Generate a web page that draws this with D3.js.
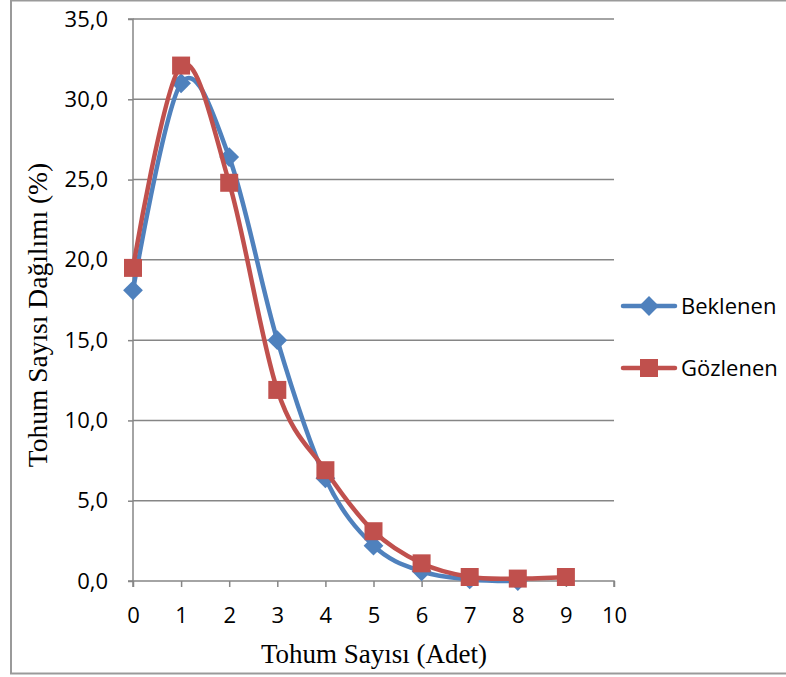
<!DOCTYPE html>
<html>
<head>
<meta charset="utf-8">
<script src="https://cdn.jsdelivr.net/npm/d3@7"></script>
<style>
  html, body { margin: 0; padding: 0; background: #fff; }
  svg { display: block; }
</style>
</head>
<body>
<svg id="chart" width="786" height="677"></svg>
<script>
// Seed count distribution: expected (Poisson) vs observed, in percent
const seedCounts = [0, 1, 2, 3, 4, 5, 6, 7, 8, 9];
const expected = [18.1, 31.0, 26.4, 15.0, 6.4, 2.2, 0.6, 0.1, 0.0];
const observed = [19.5, 32.1, 24.8, 11.9, 6.9, 3.1, 1.1, 0.25, 0.15, 0.25];
const xTicks = [0, 1, 2, 3, 4, 5, 6, 7, 8, 9, 10];
const yTicks = [0, 5, 10, 15, 20, 25, 30, 35];
const seriesNames = ["Beklenen", "Gözlenen"];

const svg = d3.select("#chart");
const W = 786, H = 677;
const plot = { left: 133, right: 614, top: 19, bottom: 581 };

const axisColor = "#868686";
const blue = "#4F81BD", red = "#C0504D";
const sans = "'Open Sans', 'Noto Sans', sans-serif";
const serif = "'Liberation Serif', 'DejaVu Serif', serif";
const tickFont = 22;

// outer chart frame
svg.append("rect")
  .attr("x", 11).attr("y", 0.5).attr("width", W + 10).attr("height", 673)
  .attr("fill", "#fff").attr("stroke", "#9a9a9a").attr("stroke-width", 2);

const x = d3.scaleLinear().domain([0, 10]).range([plot.left, plot.right]);
const y = d3.scaleLinear().domain([0, 35]).range([plot.bottom, plot.top]);

// horizontal gridlines
svg.append("g").selectAll("line").data(yTicks.filter(d => d > 0)).join("line")
  .attr("x1", plot.left).attr("x2", plot.right)
  .attr("y1", d => y(d)).attr("y2", d => y(d))
  .attr("stroke", axisColor).attr("stroke-width", 1.5);

// y axis
const yAxis = svg.append("g").attr("transform", `translate(${plot.left},0)`)
  .call(d3.axisLeft(y).tickValues(yTicks).tickSize(5).tickPadding(20)
    .tickFormat(d => d3.format(".1f")(d).replace(".", ",")));
yAxis.select(".domain").attr("stroke", axisColor).attr("stroke-width", 1.5)
  .attr("d", `M-5,${plot.top}H0V${plot.bottom}H-5`);
yAxis.selectAll(".tick line").attr("stroke", axisColor).attr("stroke-width", 1.5);
yAxis.selectAll(".tick text").attr("font-family", sans).attr("font-size", tickFont)
  .attr("fill", "#000").attr("text-anchor", "end");

// x axis
const xAxis = svg.append("g").attr("transform", `translate(0,${plot.bottom})`)
  .call(d3.axisBottom(x).tickValues(xTicks).tickSize(6).tickPadding(20));
xAxis.select(".domain").attr("stroke", axisColor).attr("stroke-width", 1.5)
  .attr("d", `M${plot.left},6V0H${plot.right}V6`);
xAxis.selectAll(".tick line").attr("stroke", axisColor).attr("stroke-width", 1.5);
xAxis.selectAll(".tick text").attr("font-family", sans).attr("font-size", tickFont)
  .attr("fill", "#000");

// axis titles
svg.append("text")
  .attr("x", 374).attr("y", 663).attr("text-anchor", "middle")
  .attr("font-family", serif).attr("font-size", 27).attr("fill", "#000")
  .text("Tohum Sayısı (Adet)");
svg.append("text")
  .attr("transform", "translate(47,315) rotate(-90)").attr("text-anchor", "middle")
  .attr("font-family", serif).attr("font-size", 27.5).attr("fill", "#000")
  .text("Tohum Sayısı Dağılımı (%)");

const line = d3.line()
  .x((d, i) => x(seedCounts[i]))
  .y(d => y(d))
  .curve(d3.curveCardinal.tension(0));

const diamond = d3.symbol().type(d3.symbolSquare).size(14 * 14);
const square = d3.symbol().type(d3.symbolSquare).size(18 * 18);

function drawSeries(values, color, kind) {
  const g = svg.append("g");
  g.append("path").datum(values)
    .attr("d", line).attr("fill", "none")
    .attr("stroke", color).attr("stroke-width", 4.5)
    .attr("stroke-linejoin", "round").attr("stroke-linecap", "round");
  g.selectAll("path.m").data(values).join("path").attr("class", "m")
    .attr("d", kind === "diamond" ? diamond : square)
    .attr("transform", (d, i) => `translate(${x(seedCounts[i])},${y(d)})` + (kind === "diamond" ? " rotate(45)" : ""))
    .attr("fill", color);
}
drawSeries(expected, blue, "diamond");
drawSeries(observed, red, "square");

// legend
const legend = [
  { name: seriesNames[0], color: blue, kind: "diamond", cy: 306 },
  { name: seriesNames[1], color: red, kind: "square", cy: 368 }
];
legend.forEach(l => {
  const g = svg.append("g");
  g.append("line").attr("x1", 623).attr("x2", 675).attr("y1", l.cy).attr("y2", l.cy)
    .attr("stroke", l.color).attr("stroke-width", 4.5).attr("stroke-linecap", "round");
  g.append("path").attr("d", l.kind === "diamond" ? diamond : square)
    .attr("transform", `translate(649,${l.cy})` + (l.kind === "diamond" ? " rotate(45)" : ""))
    .attr("fill", l.color);
  g.append("text").attr("x", 681).attr("y", l.cy).attr("dy", "0.35em")
    .attr("font-family", sans).attr("font-size", tickFont).attr("fill", "#000")
    .text(l.name);
});
</script>
</body>
</html>
